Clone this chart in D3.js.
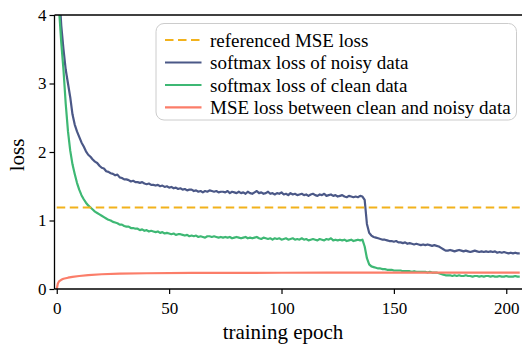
<!DOCTYPE html>
<html><head><meta charset="utf-8">
<script src="https://cdn.jsdelivr.net/npm/d3@7"></script>
<style>
html,body{margin:0;padding:0;background:#fff;}
svg{display:block;}
svg text{font-family:"Liberation Serif","Times New Roman",serif;}
</style></head>
<body><svg id="c" width="522" height="349"></svg>
<script>
const noisyLoss = [
5.2,4.4,3.85,3.5,3.2,3.0,2.8,2.55,2.4,2.3,
2.22,2.14,2.08,2.01,1.96,1.93,1.89,1.86,1.84,1.80,
1.77,1.76,1.72,1.71,1.69,1.68,1.66,1.67,1.63,1.62,
1.60,1.60,1.59,1.57,1.58,1.56,1.56,1.55,1.56,1.54,
1.53,1.54,1.52,1.52,1.51,1.52,1.50,1.51,1.49,1.50,
1.48,1.49,1.47,1.48,1.46,1.47,1.45,1.46,1.44,1.45,
1.45,1.43,1.44,1.42,1.43,1.41,1.43,1.42,1.44,1.43,
1.42,1.43,1.41,1.42,1.42,1.41,1.43,1.40,1.42,1.41,
1.40,1.42,1.40,1.41,1.39,1.42,1.40,1.39,1.41,1.43,
1.40,1.41,1.39,1.40,1.42,1.39,1.40,1.38,1.40,1.39,
1.41,1.38,1.39,1.37,1.40,1.38,1.39,1.37,1.38,1.39,
1.37,1.38,1.36,1.38,1.39,1.37,1.36,1.38,1.37,1.39,
1.36,1.37,1.38,1.36,1.37,1.35,1.36,1.37,1.35,1.34,
1.36,1.35,1.34,1.35,1.34,1.36,1.35,1.30,0.95,0.82,
0.78,0.76,0.75,0.74,0.73,0.72,0.72,0.71,0.70,0.70,
0.69,0.70,0.68,0.68,0.67,0.68,0.66,0.67,0.66,0.65,
0.66,0.65,0.64,0.65,0.64,0.65,0.64,0.63,0.64,0.63,
0.62,0.60,0.58,0.56,0.56,0.57,0.56,0.55,0.56,0.57,
0.56,0.55,0.56,0.55,0.54,0.55,0.56,0.55,0.54,0.55,
0.54,0.55,0.54,0.55,0.54,0.55,0.53,0.54,0.53,0.54,
0.53,0.52,0.53,0.52,0.53,0.52,0.52];

const cleanLoss = [
5.5,4.1,3.6,3.2,2.7,2.3,2.02,1.82,1.68,1.55,
1.45,1.37,1.31,1.26,1.22,1.19,1.16,1.13,1.11,1.09,
1.07,1.05,1.03,1.01,1.00,0.98,0.97,0.96,0.94,0.94,
0.92,0.91,0.91,0.89,0.89,0.88,0.88,0.86,0.87,0.85,
0.86,0.84,0.85,0.84,0.83,0.84,0.82,0.83,0.81,0.82,
0.81,0.80,0.81,0.79,0.80,0.80,0.79,0.78,0.79,0.77,
0.78,0.77,0.78,0.76,0.77,0.76,0.75,0.77,0.77,0.76,
0.77,0.76,0.75,0.76,0.75,0.76,0.75,0.76,0.74,0.75,
0.76,0.75,0.74,0.75,0.76,0.74,0.75,0.74,0.75,0.76,
0.74,0.73,0.75,0.74,0.73,0.74,0.72,0.74,0.73,0.74,
0.72,0.73,0.74,0.72,0.73,0.74,0.72,0.73,0.72,0.74,
0.72,0.73,0.71,0.72,0.73,0.72,0.71,0.73,0.72,0.71,
0.73,0.72,0.74,0.71,0.72,0.71,0.72,0.71,0.72,0.70,
0.71,0.72,0.70,0.71,0.72,0.71,0.72,0.62,0.45,0.36,
0.33,0.32,0.31,0.30,0.30,0.29,0.29,0.28,0.28,0.28,
0.27,0.27,0.27,0.27,0.26,0.26,0.26,0.26,0.25,0.26,
0.25,0.25,0.25,0.25,0.25,0.24,0.25,0.24,0.24,0.24,
0.23,0.22,0.21,0.20,0.20,0.20,0.19,0.20,0.19,0.20,
0.19,0.19,0.20,0.19,0.19,0.18,0.19,0.19,0.18,0.19,
0.18,0.19,0.19,0.18,0.19,0.18,0.18,0.19,0.18,0.18,
0.19,0.18,0.18,0.18,0.19,0.18,0.18];

const mseEpochs = [0,0.5,1,2,3,5,7,10,14,20,28,40,60,80,100,120,140,160,180,206];
const mseLoss   = [0,0.08,0.11,0.135,0.15,0.165,0.178,0.19,0.203,0.215,0.224,0.23,0.234,0.236,0.237,0.238,0.238,0.238,0.238,0.238];

const refEpochs = [0,206];
const refLoss = [1.19,1.19];

const xTicks = [0,50,100,150,200];
const yTicks = [0,1,2,3,4];
const legendLabels = ["referenced MSE loss","softmax loss of noisy data","softmax loss of clean data","MSE loss between clean and noisy data"];
const colors = ["#f2b21c","#4b5887","#3eb874","#fb7d69"];

const svg = d3.select("#c");
const L = 54.5, R = 522, T = 15, B = 289;
const x = d3.scaleLinear().domain([-1, 207]).range([L, R]);
const y = d3.scaleLinear().domain([0, 4]).range([B, T]);

svg.append("defs").append("clipPath").attr("id","clip")
  .append("rect").attr("x",L).attr("y",T).attr("width",R-L).attr("height",B-T);

const g = svg.append("g").attr("clip-path","url(#clip)");
const line = d3.line().x(d=>x(d[0])).y(d=>y(d[1]));

const series = [
  {pts: refEpochs.map((e,i)=>[e,refLoss[i]]), c: colors[0], dash:"8.5,4.5"},
  {pts: noisyLoss.map((v,i)=>[i,v]), c: colors[1]},
  {pts: cleanLoss.map((v,i)=>[i,v]), c: colors[2]},
  {pts: mseEpochs.map((e,i)=>[e,mseLoss[i]]), c: colors[3]}
];
[1,2,3,0].forEach(k=>{
  const s = series[k];
  g.append("path").attr("d", line(s.pts)).attr("fill","none")
   .attr("stroke", s.c).attr("stroke-width", 2.2)
   .attr("stroke-linejoin","round")
   .attr("stroke-dasharray", s.dash || null);
});

const xAxis = svg.append("g").attr("transform",`translate(0,${B})`)
  .call(d3.axisBottom(x).tickValues(xTicks).tickFormat(d3.format("d")).tickSize(5).tickPadding(8).tickSizeOuter(0));
const yAxis = svg.append("g").attr("transform",`translate(${L},0)`)
  .call(d3.axisLeft(y).tickValues(yTicks).tickFormat(d3.format("d")).tickSize(5).tickPadding(3).tickSizeOuter(0));
[xAxis,yAxis].forEach(a=>{
  a.attr("font-family",null).attr("font-size",null);
  a.select(".domain").attr("stroke","#000").attr("stroke-width",1.3);
  a.selectAll(".tick line").attr("stroke","#000").attr("stroke-width",1.2);
  a.selectAll(".tick text").attr("fill","#000").attr("font-size","17px")
   .attr("font-family","Liberation Serif");
});
xAxis.select(".domain").attr("d",`M${L},0H${R}`);
yAxis.select(".domain").attr("d",`M0,${B}V${T}`);
svg.append("line").attr("x1",L).attr("x2",R).attr("y1",T).attr("y2",T)
  .attr("stroke","#000").attr("stroke-width",1.3);

svg.append("text").attr("x",283).attr("y",339).attr("text-anchor","middle")
  .attr("font-size","21px").text("training epoch");
svg.append("text").attr("transform","translate(24,155) rotate(-90)")
  .attr("text-anchor","middle").attr("font-size","21px").text("loss");

const lg = svg.append("g");
lg.append("rect").attr("x",156).attr("y",23.5).attr("width",360.5).attr("height",96.5)
  .attr("rx",8).attr("fill","#fff").attr("fill-opacity",0.85)
  .attr("stroke","#cccccc").attr("stroke-width",1);
const rowY = [40,62.5,85,107.3];
legendLabels.forEach((lab,i)=>{
  lg.append("line").attr("x1",165).attr("x2",201.5).attr("y1",rowY[i]).attr("y2",rowY[i])
    .attr("stroke",colors[i]).attr("stroke-width",2.2)
    .attr("stroke-dasharray", i===0 ? "8.5,4.5" : null);
  lg.append("text").attr("x",210).attr("y",rowY[i]).attr("dy","0.35em")
    .attr("font-size","19px").text(lab);
});
</script></body></html>
